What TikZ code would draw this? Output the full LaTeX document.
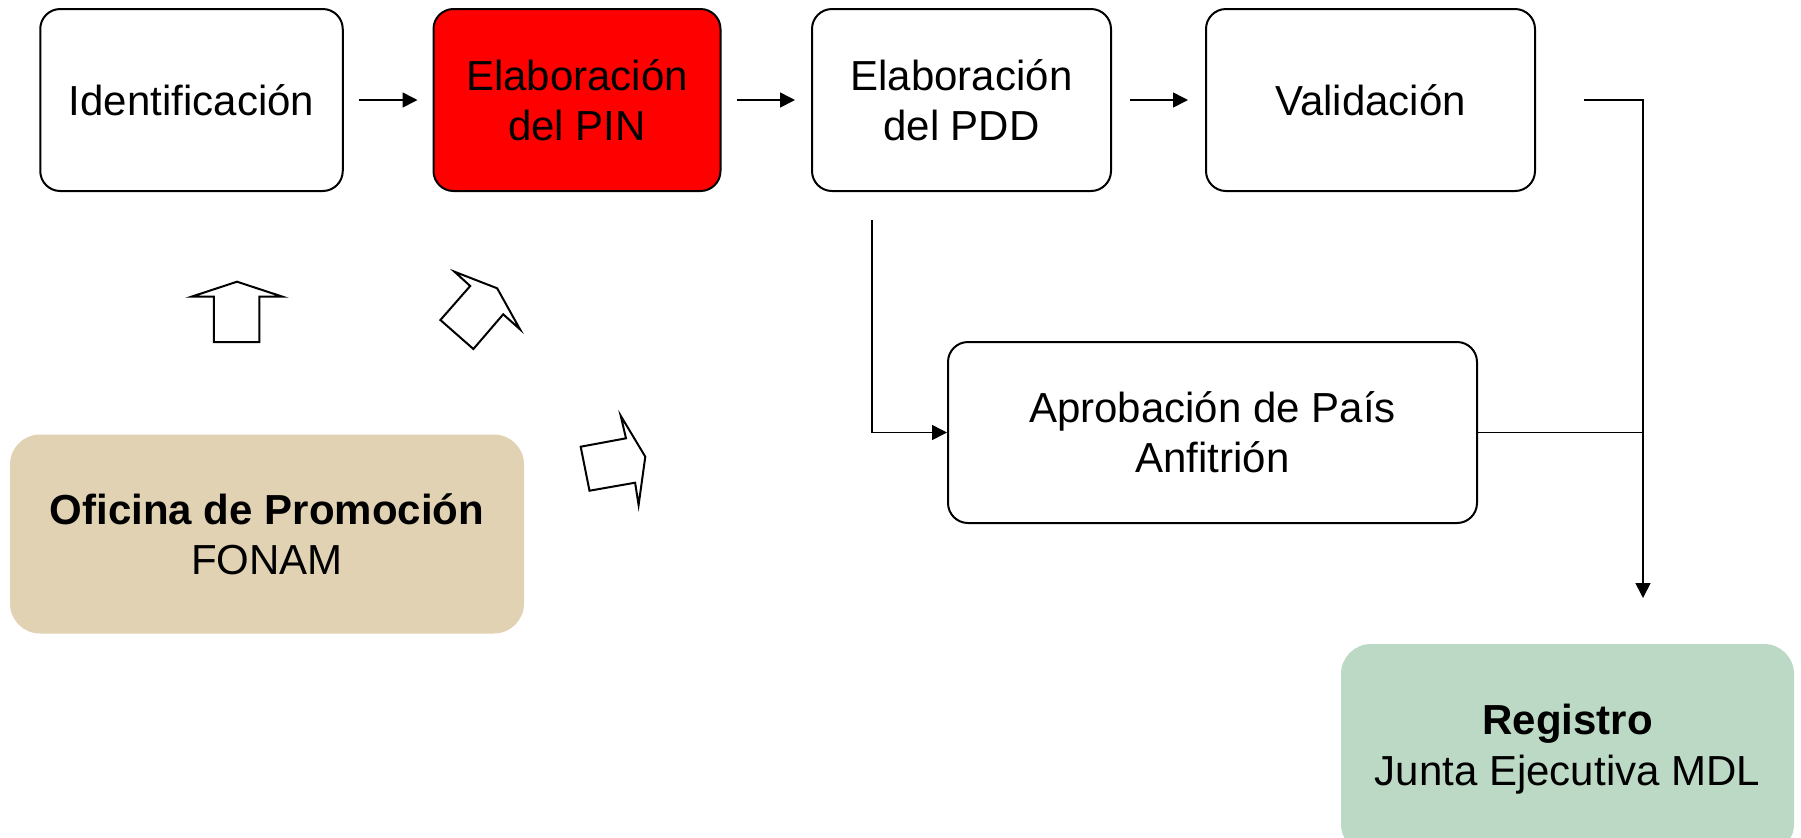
\documentclass[tikz,border=0pt]{standalone}
\usepackage{fontspec}
\setmainfont{Liberation Sans}
\usetikzlibrary{arrows.meta}
\definecolor{tanbox}{RGB}{225,210,179}
\definecolor{greenbox}{RGB}{188,217,198}
\definecolor{redbox}{RGB}{255,0,0}
\begin{document}
\begin{tikzpicture}[x=0.5pt,y=-0.5pt,
  txt/.style={font=\fontsize{21pt}{25.2pt}\selectfont, align=center, inner sep=0pt},
  stepbox/.style={txt, draw=black, line width=1pt, rounded corners=10pt, minimum height=91pt},
  agency/.style={txt, rounded corners=15pt},
  conn/.style={line width=0.8pt},
  arr/.style={conn, -{Triangle[length=7.5pt,width=7.5pt]}},
  blockarrow/.style={draw=black, line width=1pt, fill=white, line join=miter}
]
\useasboundingbox (0,0) rectangle (1801,837);
\fill[white] (0,0) rectangle (1801,837);

% step boxes
\node[stepbox, minimum width=151.25pt] (id) at (191.5,100) {Identificación};
\node[stepbox, fill=redbox, minimum width=143.5pt] (pin) at (577,100) {Elaboración\\del PIN};
\node[stepbox, minimum width=149.5pt] (pdd) at (961.5,100) {Elaboración\\del PDD};
\node[stepbox, minimum width=164.5pt] (val) at (1370.5,100) {Validación};
\node[stepbox, minimum width=264.5pt, minimum height=90.5pt] (apr) at (1212.5,432.5) {Aprobación de País\\Anfitrión};

% agency boxes
\node[agency, fill=tanbox, minimum width=257pt, minimum height=99.5pt] (ofi) at (267,534) {\textbf{Oficina de Promoción}\\FONAM};
\node[agency, fill=greenbox, minimum width=226.5pt, minimum height=105pt] (reg) at (1567.5,749) {\textbf{Registro}\\Junta Ejecutiva MDL};

% helper coordinates
\coordinate (pddout) at (872,220);
\coordinate (regin) at (1643,598);

% connectors
\draw[arr, shorten <=7.5pt, shorten >=7.5pt] (id.east) -- (pin.west);
\draw[arr, shorten <=7.5pt, shorten >=8pt] (pin.east) -- (pdd.west);
\draw[arr, shorten <=9pt, shorten >=8.5pt] (pdd.east) -- (val.west);
\draw[arr] ([xshift=24pt]val.east) -| (regin);
\draw[conn] (apr.east) -- (apr.east -| regin);
\draw[arr] (pddout) |- (apr.west);

% block arrows
\draw[blockarrow] (191.4,296.7) -- (237,281.7) -- (282.6,296.7) -- (259.4,296.7)
  -- (259.4,342) -- (213.8,342) -- (213.8,296.7) -- cycle;
\draw[blockarrow] (454.5,271.7) -- (497.2,288.3) -- (520,329.3) -- (503.2,314.3)
  -- (473.4,349) -- (440.4,320) -- (470.2,286) -- cycle;
\draw[blockarrow] (620.7,415.7) -- (645.3,456.7) -- (638.6,505) -- (635.1,482.7)
  -- (589.5,490.7) -- (580.7,446.7) -- (626,438.3) -- cycle;
\end{tikzpicture}
\end{document}
